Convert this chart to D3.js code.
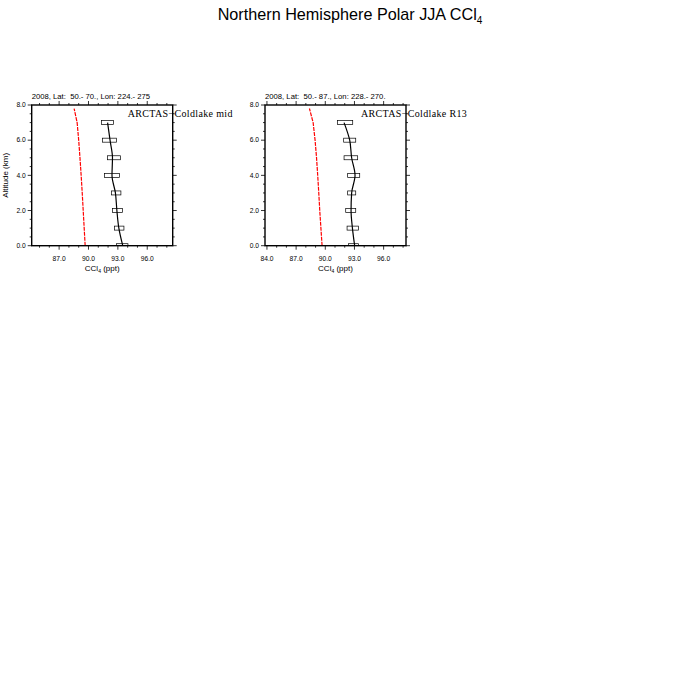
<!DOCTYPE html>
<html>
<head>
<meta charset="utf-8">
<script src="https://cdn.jsdelivr.net/npm/d3@7"></script>
<style>
  body { margin: 0; background: #fff; }
  text { font-family: "Liberation Sans", Arial, Helvetica, sans-serif; }
</style>
</head>
<body>
<div id="chart"></div>
<script>
// altitude levels (km)
const modelAlt = [0, 1, 2, 3, 4, 5, 6, 7, 7.8];
const obsAlt = [0, 1, 2, 3, 4, 5, 6, 7];

// panel 1 : Coldlake mid
const model1 = [89.66, 89.56, 89.46, 89.36, 89.25, 89.13, 89.0, 88.84, 88.53];
const obsMed1 = [93.5, 93.1, 92.9, 92.75, 92.4, 92.45, 92.2, 91.95];
const obsLo1 = [92.86, 92.66, 92.46, 92.35, 91.64, 91.94, 91.43, 91.33];
const obsHi1 = [94.03, 93.62, 93.48, 93.31, 93.17, 93.27, 92.86, 92.56];

// panel 2 : Coldlake R13
const model2 = [89.67, 89.55, 89.43, 89.33, 89.22, 89.1, 88.95, 88.75, 88.37];
const obsMed2 = [93.02, 92.79, 92.65, 92.71, 93.06, 92.71, 92.51, 91.93];
const obsLo2 = [92.38, 92.24, 92.1, 92.3, 92.3, 91.93, 91.89, 91.24];
const obsHi2 = [93.43, 93.43, 93.13, 93.13, 93.54, 93.33, 93.13, 92.82];

const xTicks = [84, 87, 90, 93, 96];
const yTicks = [0, 2, 4, 6, 8];

const titles = ["2008, Lat:  50.- 70., Lon: 224.- 275", "2008, Lat:  50.- 87., Lon: 228.- 270."];
const labels = ["ARCTAS\u2212Coldlake mid", "ARCTAS\u2212Coldlake R13"];

const svg = d3.select("#chart").append("svg")
  .attr("width", 700).attr("height", 700);

svg.append("text")
  .attr("x", 350).attr("y", 20)
  .attr("text-anchor", "middle")
  .style("font-size", "16.2px")
  .text("Northern Hemisphere Polar JJA CCl")
  .append("tspan").attr("dy", 4).style("font-size", "10px").text("4");

function drawPanel(i, left, xDom, model, med, lo, hi) {
  const w = 141, h = 140.7, top = 105;
  const g = svg.append("g").attr("transform", `translate(${left},${top})`);

  const x = d3.scaleLinear().domain(xDom).range([0, w]);
  const y = d3.scaleLinear().domain([0, 8]).range([h, 0]);

  const clipId = "clip" + i;
  g.append("clipPath").attr("id", clipId)
    .append("rect").attr("width", w).attr("height", h);

  // minor + major ticks, outward on all four sides
  const xMinor = d3.range(Math.ceil(xDom[0]), xDom[1] + 0.001, 1);
  const yMinor = d3.range(0, 8.001, 0.5);
  const tk = g.append("g").attr("stroke", "#000").attr("stroke-width", 0.8);
  xMinor.forEach(v => {
    const len = xTicks.includes(v) ? 4 : 2;
    tk.append("line").attr("x1", x(v)).attr("x2", x(v)).attr("y1", h).attr("y2", h + len);
    tk.append("line").attr("x1", x(v)).attr("x2", x(v)).attr("y1", 0).attr("y2", -len);
  });
  yMinor.forEach(v => {
    const len = yTicks.includes(v) ? 4 : 2;
    tk.append("line").attr("y1", y(v)).attr("y2", y(v)).attr("x1", 0).attr("x2", -len);
    tk.append("line").attr("y1", y(v)).attr("y2", y(v)).attr("x1", w).attr("x2", w + len);
  });

  // tick labels
  xTicks.filter(v => v >= xDom[0] - 0.05).forEach(v => {
    g.append("text").attr("x", x(v)).attr("y", h + 15)
      .attr("text-anchor", "middle").style("font-size", "6.7px")
      .text(d3.format(".1f")(v));
  });
  yTicks.forEach(v => {
    g.append("text").attr("x", -6).attr("y", y(v) + 2.3)
      .attr("text-anchor", "end").style("font-size", "6.7px")
      .text(d3.format(".1f")(v));
  });
  if (i === 0) {
    g.append("text")
      .attr("transform", "rotate(-90)")
      .attr("x", -h / 2).attr("y", -24)
      .attr("text-anchor", "middle").style("font-size", "8px")
      .text("Altitude (km)");
  }

  const xl = g.append("text").attr("x", w / 2).attr("y", h + 25)
    .attr("text-anchor", "middle").style("font-size", "8px").text("CCl");
  xl.append("tspan").attr("dy", 2).style("font-size", "5px").text("4");
  xl.append("tspan").attr("dy", -2).text(" (ppt)");

  g.append("text").attr("x", 0).attr("y", -6)
    .style("font-size", "7.7px").style("white-space", "pre")
    .text(titles[i]);

  const plot = g.append("g").attr("clip-path", `url(#${clipId})`);

  // model profile
  plot.append("path")
    .datum(modelAlt.map((a, k) => [model[k], a]))
    .attr("fill", "none").attr("stroke", "#ff0000").attr("stroke-width", 1.2)
    .attr("stroke-dasharray", "4,1")
    .attr("d", d3.line().x(d => x(d[0])).y(d => y(d[1])));

  // observation boxes
  plot.selectAll("rect.box")
    .data(obsAlt.map((a, k) => ({ a, lo: lo[k], hi: hi[k] })))
    .enter().append("rect")
    .attr("class", "box")
    .attr("x", d => x(d.lo)).attr("width", d => x(d.hi) - x(d.lo))
    .attr("y", d => y(d.a) - 2).attr("height", 4)
    .attr("fill", "none").attr("stroke", "#000").attr("stroke-width", 0.7);

  // observation median line
  plot.append("path")
    .datum(obsAlt.map((a, k) => [med[k], a]))
    .attr("fill", "none").attr("stroke", "#000").attr("stroke-width", 1.2)
    .attr("d", d3.line().x(d => x(d[0])).y(d => y(d[1])).curve(d3.curveMonotoneY));

  // frame
  g.append("rect").attr("width", w).attr("height", h)
    .attr("fill", "none").attr("stroke", "#000").attr("stroke-width", 1.4);

  g.append("text").attr("x", 96).attr("y", 11.5)
    .style("font-family", "'Liberation Serif', 'Times New Roman', serif")
    .style("font-size", "10px").style("letter-spacing", "0.35px")
    .text(labels[i]);
}

drawPanel(0, 31.7, [84.2, 98.6], model1, obsMed1, obsLo1, obsHi1);
drawPanel(1, 265, [83.8, 98.3], model2, obsMed2, obsLo2, obsHi2);
</script>
</body>
</html>
